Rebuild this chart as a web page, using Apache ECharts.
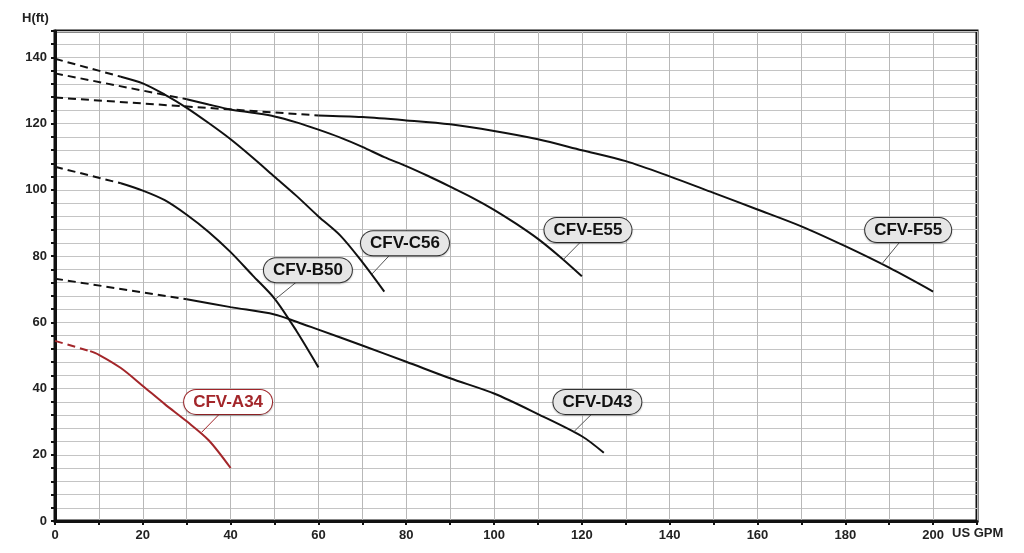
<!DOCTYPE html>
<html>
<head>
<meta charset="utf-8">
<script src="https://cdn.jsdelivr.net/npm/echarts@6/dist/echarts.min.js"></script>
<style>
html, body { margin: 0; padding: 0; background: #fff; }
#main { width: 1024px; height: 553px; }
</style>
</head>
<body>
<div id="main"></div>
<script>
// pump models
var pumpNames = ['CFV-A34', 'CFV-B50', 'CFV-C56', 'CFV-D43', 'CFV-E55', 'CFV-F55'];

// low flow part of each curve (drawn dashed), [US GPM, H ft]
var dashA34 = [[0, 54.4], [8, 51.3]];
var dashB50 = [[0, 107], [15, 102]];
var dashC56 = [[0, 139.6], [15, 134.2]];
var dashD43 = [[0, 73.2], [30, 67]];
var dashE55 = [[0, 135.2], [30, 127.4]];
var dashF55 = [[0, 127.9], [60, 122.5]];

// working range of each curve (drawn solid)
var curveA34 = [[8, 51.3], [10, 50.2], [15, 46.2], [20, 40.8], [25, 35.3], [30, 30.1], [35, 24.4], [40, 16]];
var curveB50 = [[15, 102], [20, 99.8], [25, 96.9], [30, 92.5], [35, 87.3], [40, 81.2], [45, 74.2], [50, 67.2], [55, 57.4], [60, 46.4]];
var curveC56 = [[15, 134.2], [20, 132.2], [25, 128.8], [30, 124.8], [35, 120.2], [40, 115.3], [45, 109.8], [50, 104], [55, 98.2], [60, 92], [65, 86.2], [70, 78.2], [75, 69.3]];
var curveD43 = [[30, 67], [40, 64.6], [50, 62.4], [55, 60.2], [60, 57.8], [70, 53], [80, 48.1], [90, 43.1], [100, 38.5], [110, 32.3], [120, 25.6], [125, 20.6]];
var curveE55 = [[30, 127.4], [35, 125.8], [40, 124.3], [45, 123.3], [50, 122.2], [55, 120.4], [60, 118.2], [65, 115.8], [70, 113], [75, 109.9], [80, 107.2], [85, 104.2], [90, 101], [95, 97.7], [100, 94], [105, 89.8], [110, 85.2], [115, 79.8], [120, 73.9]];
var curveF55 = [[60, 122.5], [70, 122], [80, 121], [90, 119.8], [100, 117.8], [110, 115.3], [120, 112], [130, 108.7], [140, 104.1], [150, 99.1], [160, 94.1], [170, 89], [180, 83], [190, 76.5], [200, 69.3]];

// name tags: leader starts on the curve and ends under the tag
var tagFrom = [[33.4, 26.8], [50.2, 67], [72.2, 74.6], [118.2, 27], [115.8, 79], [188.3, 77.6]];
var tagTo = [[37.6, 32.5], [55.1, 72.3], [76.3, 80.4], [122.4, 32.5], [119.8, 84.4], [192.5, 84.4]];

var dashes = [dashA34, dashB50, dashC56, dashD43, dashE55, dashF55];
var curves = [curveA34, curveB50, curveC56, curveD43, curveE55, curveF55];
var lineColors = ['#a3262a', '#111', '#111', '#111', '#111', '#111'];
var tagShift = [8, 11, 15, 5, 7, 8];

var myChart = echarts.init(document.getElementById('main'));

var series = [];
for (var i = 0; i < pumpNames.length; i++) {
    var red = i === 0;
    series.push({
        name: pumpNames[i] + ' low',
        type: 'line',
        data: dashes[i],
        symbol: 'none',
        silent: true,
        lineStyle: {color: lineColors[i], width: 2, type: [8, 5]}
    });
    series.push({
        name: pumpNames[i],
        type: 'line',
        data: curves[i],
        symbol: 'none',
        smooth: 0.3,
        silent: true,
        lineStyle: {color: lineColors[i], width: 2}
    });
    // leader line + tag
    series.push({
        name: pumpNames[i] + ' tag',
        type: 'line',
        data: [
            {value: tagFrom[i], symbol: 'none'},
            {
                value: tagTo[i],
                label: {
                    show: true,
                    position: 'top',
                    distance: -1,
                    offset: [tagShift[i], 0],
                    formatter: pumpNames[i],
                    color: red ? '#a3262a' : '#111',
                    backgroundColor: red ? '#fff' : '#e6e6e6',
                    borderColor: red ? '#a3262a' : '#333',
                    borderWidth: 1,
                    borderRadius: 12,
                    padding: [3, 9, 2, 9],
                    fontFamily: 'Liberation Sans, Arial, sans-serif',
                    fontWeight: 'bold',
                    fontSize: 17,
                    lineHeight: 19,
                    shadowColor: 'rgba(0,0,0,0.2)',
                    shadowBlur: 2,
                    shadowOffsetY: 1
                }
            }
        ],
        symbol: 'circle',
        symbolSize: 1,
        showSymbol: true,
        itemStyle: {color: red ? '#a3262a' : '#555'},
        silent: true,
        z: 5,
        lineStyle: {color: red ? '#a3262a' : '#555', width: 1}
    });
}

var axisText = {color: '#222', fontFamily: 'Liberation Sans, Arial, sans-serif', fontWeight: 'bold', fontSize: 13};

var option = {
    backgroundColor: '#fff',
    animation: false,
    grid: {left: 55, right: 47, top: 31, bottom: 32, show: true, borderColor: '#111', borderWidth: 3},
    xAxis: {
        type: 'value',
        min: 0,
        max: 210,
        interval: 10,
        axisLine: {lineStyle: {color: '#111', width: 3}},
        axisTick: {show: true, length: 4, lineStyle: {color: '#111', width: 2}},
        axisLabel: Object.assign({
            margin: 8,
            formatter: function (v) { return (v % 20 === 0 && v <= 200) ? v : ''; }
        }, axisText),
        splitLine: {lineStyle: {color: '#b8b8b8', width: 1}}
    },
    yAxis: {
        type: 'value',
        min: 0,
        max: 148,
        interval: 4,
        axisLine: {lineStyle: {color: '#111', width: 3}},
        axisTick: {show: true, length: 4, lineStyle: {color: '#111', width: 2}},
        axisLabel: Object.assign({
            margin: 8,
            formatter: function (v) { return v % 20 === 0 ? v : ''; }
        }, axisText),
        splitLine: {lineStyle: {color: '#c4c4c4', width: 1}}
    },
    graphic: [
        {type: 'text', left: 22, top: 12, style: {text: 'H(ft)', fill: '#222', font: 'bold 13px "Liberation Sans", Arial, sans-serif'}},
        {type: 'text', left: 952, top: 527, style: {text: 'US GPM', fill: '#222', font: 'bold 13px "Liberation Sans", Arial, sans-serif'}}
    ],
    series: series
};
myChart.setOption(option);
</script>
</body>
</html>
